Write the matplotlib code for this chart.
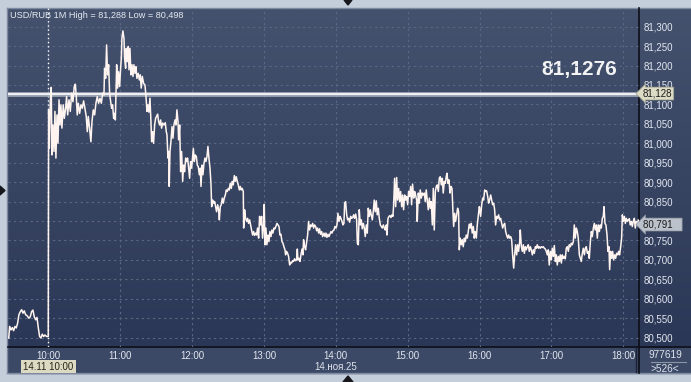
import numpy as np
import matplotlib.pyplot as plt
from matplotlib.patches import Rectangle, Polygon
from matplotlib.colors import LinearSegmentedColormap
from matplotlib.transforms import blended_transform_factory

plt.rcParams['font.family'] = ['Liberation Sans', 'DejaVu Sans']

# ---- data: USD/RUB, 14 Nov 2025, minutes relative to 10:00 ----
pre_minutes = [-33, -32.2, -31.1, -30, -28.9, -27.8, -26.7, -25.6, -24.5, -23.3, -22.2, -21.1,
               -20, -18.9, -17.8, -16.1, -15, -13.9, -12.8, -11.7, -10.5, -9.4, -8.3, -7.2,
               -6.1, -5, -3.9, -2.8, -1.4, 0]
pre_prices = [80.499, 80.529, 80.520, 80.526, 80.518, 80.529, 80.525, 80.537, 80.559, 80.567, 80.572, 80.563,
              80.569, 80.559, 80.557, 80.550, 80.554, 80.567, 80.571, 80.554, 80.546, 80.552, 80.525, 80.503,
              80.499, 80.509, 80.503, 80.507, 80.503, 80.503]

minutes = [
    0.3, 0.9, 1.7, 2.5, 3.1, 3.9, 4.8, 5.6, 6.4, 7.3, 8.1, 9.0, 9.8, 10.6, 11.4, 12.5, 13.4, 14.5, 15.3, 16.2,
    17.3, 18.4, 19.5, 20.6, 21.7, 22.6, 23.4, 24.2, 25.1, 26.2, 27.3, 28.4, 29.5, 30.6, 31.7, 32.6, 33.4, 34.5,
    35.6, 36.5, 37.6, 38.7, 39.8, 40.9, 42.0, 43.2, 44.3, 45.4, 46.5, 47.0, 47.9, 48.7, 49.5, 50.4, 51.2, 52.1,
    52.9, 53.7, 54.6, 55.4, 56.0, 56.5, 57.1, 57.9, 58.7, 59.6,
    60.4, 61.0, 61.5, 62.3, 63.2, 63.7, 64.6, 65.1, 66.0, 66.8, 67.4, 68.2, 69.0, 69.9, 70.7, 71.5, 72.4, 73.2,
    74.0, 75.1, 76.0, 76.8, 77.6, 78.5, 79.6, 80.7, 81.5, 82.4, 83.2, 84.0, 84.9, 85.7, 86.3, 87.1, 87.9, 88.8,
    89.6, 90.4, 91.3, 92.1, 93.0, 93.8, 94.6, 95.5, 96.6, 97.7, 98.5, 99.1, 99.9, 100.5, 101.0,
    101.6, 102.4, 103.3, 104.1, 104.9, 105.8, 106.6, 107.4, 108.3, 108.8, 109.7, 110.5, 111.3, 112.2, 113.0,
    113.8, 114.7, 115.5, 116.3, 117.2, 118.0, 118.8, 119.7,
    121.1, 121.9, 122.7, 123.6, 124.4, 125.2, 126.1, 126.9, 127.5, 128.3, 129.1, 130.0, 130.8, 131.6, 132.5,
    133.3, 134.1, 135.0, 135.8, 136.4, 137.2, 138.0, 138.9, 139.7, 140.5, 141.4, 142.2, 142.8, 143.6, 144.4,
    145.3, 146.1, 146.9, 147.8, 148.6, 149.4, 150.3, 151.1, 151.9, 152.8, 153.6, 154.4, 155.3, 156.1, 156.9,
    157.8, 158.6, 159.5, 160.3, 161.1, 161.9, 162.8, 163.1, 163.9, 164.7, 165.6, 166.4, 167.2, 168.1, 168.9,
    169.7, 170.6, 171.4, 172.2, 173.1, 173.9, 174.7, 175.6, 176.4, 177.3, 178.1, 178.9, 179.8,
    180.3, 180.9, 181.7, 182.5, 183.4, 184.2, 185.0, 185.9, 186.7, 187.5, 188.4, 189.2, 190.0, 190.9, 191.7,
    192.6, 193.4, 194.2, 195.1, 195.9, 196.7, 197.6, 198.1, 198.9, 199.8, 200.6, 201.5, 202.3, 203.1, 204.0,
    204.8, 205.6, 206.5, 207.3, 207.9, 208.4, 209.3, 210.1, 210.9, 211.8, 212.6, 213.1, 214.0, 214.8, 215.6,
    216.5, 217.3, 218.1, 219.0, 219.8, 220.7, 221.5, 222.3, 223.2, 224.0, 224.8, 225.7, 226.5, 227.3, 228.2,
    229.0, 230.1, 231.0, 231.8, 232.6, 233.5, 234.3, 235.1, 236.0, 236.8, 237.6, 238.5, 239.3,
    240.2, 241.0, 241.8, 242.7, 243.5, 244.3, 245.2, 246.0, 246.8, 247.4, 248.2, 249.1, 249.9, 250.7, 251.6,
    252.4, 253.2, 254.1, 254.9, 255.7, 256.6, 257.4, 258.0, 258.8, 259.6, 260.5, 261.3, 262.1, 263.0, 263.8,
    264.6, 265.5, 266.3, 267.1, 268.0, 268.8, 269.6, 270.5, 271.3, 272.1, 273.0, 273.8, 274.6, 275.5, 276.3,
    277.2, 278.0, 278.8, 279.7, 280.5, 281.3, 282.2, 282.7, 283.6, 284.4, 285.2, 286.1, 286.9, 287.7, 288.3,
    289.1, 290.0, 290.8, 291.6, 292.5, 293.3, 294.1, 295.0, 295.8, 296.6, 297.5, 298.3, 299.1,
    300.0, 300.8, 301.6, 302.5, 303.3, 304.1, 305.0, 305.8, 306.6, 307.5, 308.0, 308.9, 309.7, 310.5, 311.4,
    312.2, 313.0, 313.9, 314.7, 315.5, 316.4, 317.2, 318.1, 318.9, 319.7, 320.6, 321.4, 322.2, 323.1, 323.9,
    324.7, 325.6, 326.4, 327.2, 328.1, 328.9, 329.7, 330.6, 331.4, 332.2, 332.8, 333.6, 334.5, 335.3, 336.1,
    337.0, 337.8, 338.4, 339.2, 340.0, 340.9, 341.7, 342.5, 343.1, 343.9, 344.8, 345.6, 346.4, 347.3, 348.1,
    348.9, 349.8, 350.6, 351.4, 352.3, 353.1, 353.9, 354.8, 355.6, 356.4, 357.3, 358.1, 359.0, 359.8,
    360.1, 360.9, 361.8, 362.6, 363.4, 364.3, 365.1, 365.9, 366.8, 367.6, 368.4, 369.3, 370.1, 370.9, 371.8,
    372.6, 373.4, 374.3, 375.1, 375.9, 376.8, 377.6, 378.5, 379.3, 380.1, 381.0, 381.8, 382.6, 383.5, 384.3,
    385.1, 386.0, 386.8, 387.6, 388.5, 389.3, 390.1, 391.0, 391.8, 392.6, 393.5, 394.0, 394.9, 395.7, 396.5,
    397.4, 398.2, 399.0, 399.9, 400.7, 401.5, 402.4, 403.2, 404.1, 404.9, 405.7, 406.6, 407.4, 408.2, 409.1,
    409.9, 410.7, 411.6, 412.4, 413.2, 414.1, 414.9, 415.7, 416.6, 417.4, 418.2, 419.1, 419.9,
    420.7, 421.6, 422.4, 423.3, 424.1, 424.9, 425.8, 426.6, 427.4, 428.3, 429.1, 429.9, 430.8, 431.6, 432.4,
    433.3, 434.1, 434.9, 435.8, 436.6, 437.4, 438.3, 439.1, 439.9, 440.8, 441.6, 442.4, 443.3, 444.1, 444.9,
    445.8, 446.6, 447.5, 448.3, 449.1, 450.0, 450.8, 451.6, 452.5, 453.3, 454.1, 455.0, 455.8, 456.6, 457.5,
    458.3, 459.1, 460.0, 460.8, 461.6, 462.5, 463.3, 463.9, 464.7, 465.5, 466.4, 467.2, 468.0, 468.6, 469.4,
    470.3, 471.1, 471.9, 472.8, 473.6, 474.4, 475.3, 476.1, 476.9, 477.8, 478.6, 479.2, 480.0, 480.9, 481.7,
    482.5, 483.4, 484.2, 485.0, 485.8, 486.7, 487.5, 488.3, 489.2, 490.0, 490.8, 491.7, 492.5, 493.1,
]
prices = [
    81.086, 80.987, 81.107, 81.144, 80.970, 81.047, 80.979, 81.082, 80.962, 81.073, 81.000, 81.112, 81.047, 81.099, 81.039, 81.099, 81.064, 81.090, 81.120, 81.073,
    81.112, 81.082, 81.129, 81.107, 81.146, 81.152, 81.120, 81.073, 81.103, 81.077, 81.099, 81.090, 81.109, 81.090, 81.069, 81.030, 81.069, 81.039,
    81.004, 81.056, 81.086, 81.073, 81.103, 81.120, 81.103, 81.116, 81.103, 81.129, 81.124, 81.193, 81.167, 81.253, 81.176, 81.202, 81.129, 81.107,
    81.090, 81.099, 81.064, 81.077, 81.060, 81.124, 81.202, 81.142, 81.184, 81.146,
    81.193, 81.219, 81.270, 81.289, 81.270, 81.219, 81.193, 81.244, 81.210, 81.249, 81.189, 81.244, 81.176, 81.202, 81.172, 81.202, 81.180, 81.197,
    81.167, 81.180, 81.163, 81.176, 81.142, 81.172, 81.154, 81.150, 81.124, 81.082, 81.099, 81.080, 81.116, 81.056, 81.004, 81.030, 81.000, 81.047,
    81.064, 81.069, 81.075, 81.056, 81.047, 81.060, 81.039, 81.052, 81.047, 81.053, 81.030, 81.022, 80.962, 80.979, 80.889,
    80.979, 81.004, 81.043, 81.013, 81.047, 81.060, 81.047, 81.086, 81.056, 81.009, 81.047, 80.927, 80.979, 80.902, 80.944,
    80.927, 80.962, 80.953, 80.962, 80.936, 80.910, 80.953, 80.936,
    80.987, 80.953, 80.970, 80.966, 80.944, 80.940, 80.919, 80.936, 80.889, 80.944, 80.919, 80.949, 80.962, 80.953, 80.966,
    80.992, 80.962, 80.936, 80.897, 80.837, 80.854, 80.846, 80.850, 80.837, 80.824, 80.842, 80.829, 80.803, 80.837, 80.842,
    80.859, 80.846, 80.859, 80.867, 80.880, 80.876, 80.884, 80.880, 80.897, 80.884, 80.902, 80.893, 80.917, 80.902, 80.914,
    80.902, 80.893, 80.880, 80.889, 80.880, 80.884, 80.876, 80.782, 80.829, 80.807, 80.799, 80.807, 80.794, 80.803, 80.790,
    80.777, 80.764, 80.773, 80.763, 80.769, 80.764, 80.782, 80.756, 80.812, 80.790, 80.812, 80.756, 80.790,
    80.843, 80.739, 80.782, 80.739, 80.764, 80.747, 80.773, 80.760, 80.777, 80.769, 80.782, 80.780, 80.786, 80.794, 80.790,
    80.786, 80.764, 80.766, 80.747, 80.743, 80.734, 80.726, 80.713, 80.722, 80.717, 80.709, 80.687, 80.694, 80.692, 80.698,
    80.696, 80.703, 80.698, 80.700, 80.728, 80.700, 80.704, 80.696, 80.713, 80.728, 80.713, 80.752, 80.734, 80.726, 80.743,
    80.764, 80.799, 80.777, 80.790, 80.786, 80.794, 80.782, 80.790, 80.786, 80.775, 80.782, 80.769, 80.780, 80.766, 80.773,
    80.760, 80.769, 80.760, 80.769, 80.758, 80.766, 80.760, 80.766, 80.773, 80.769, 80.775, 80.777, 80.786,
    80.782, 80.790, 80.820, 80.799, 80.812, 80.807, 80.799, 80.790, 80.794, 80.846, 80.850, 80.816, 80.803, 80.807, 80.797,
    80.812, 80.807, 80.809, 80.816, 80.807, 80.818, 80.803, 80.743, 80.739, 80.829, 80.790, 80.803, 80.780, 80.794, 80.782,
    80.760, 80.790, 80.769, 80.833, 80.812, 80.829, 80.816, 80.803, 80.824, 80.854, 80.824, 80.852, 80.816, 80.833, 80.807,
    80.790, 80.786, 80.782, 80.790, 80.782, 80.777, 80.790, 80.764, 80.807, 80.812, 80.814, 80.809, 80.816, 80.812, 80.842,
    80.910, 80.837, 80.912, 80.854, 80.884, 80.850, 80.876, 80.837, 80.867, 80.829, 80.867, 80.854, 80.863,
    80.842, 80.876, 80.863, 80.889, 80.842, 80.895, 80.859, 80.876, 80.867, 80.854, 80.799, 80.872, 80.846, 80.880, 80.859,
    80.872, 80.867, 80.872, 80.850, 80.880, 80.854, 80.829, 80.859, 80.833, 80.850, 80.790, 80.884, 80.777, 80.876, 80.889,
    80.893, 80.876, 80.910, 80.914, 80.893, 80.910, 80.872, 80.902, 80.897, 80.914, 80.923, 80.897, 80.906, 80.872, 80.889,
    80.884, 80.824, 80.786, 80.820, 80.799, 80.816, 80.833, 80.824, 80.726, 80.756, 80.739, 80.752, 80.734, 80.756, 80.747,
    80.764, 80.756, 80.773, 80.792, 80.782, 80.794, 80.769, 80.786, 80.756, 80.773, 80.756, 80.790, 80.816, 80.837,
    80.833, 80.812, 80.842, 80.859, 80.854, 80.880, 80.876, 80.878, 80.863, 80.846, 80.854, 80.867, 80.854, 80.842, 80.846,
    80.829, 80.790, 80.812, 80.807, 80.816, 80.803, 80.807, 80.794, 80.782, 80.790, 80.794, 80.773, 80.764, 80.756, 80.764,
    80.756, 80.760, 80.752, 80.713, 80.679, 80.713, 80.739, 80.713, 80.739, 80.722, 80.747, 80.777, 80.734, 80.722, 80.739,
    80.717, 80.734, 80.726, 80.734, 80.739, 80.722, 80.734, 80.726, 80.713, 80.726, 80.717, 80.734, 80.730, 80.739, 80.730,
    80.734, 80.730, 80.734, 80.732, 80.734, 80.730, 80.728, 80.722, 80.713, 80.726, 80.687, 80.722, 80.700,
    80.730, 80.709, 80.737, 80.696, 80.713, 80.687, 80.709, 80.696, 80.713, 80.692, 80.713, 80.704, 80.709, 80.703, 80.730,
    80.734, 80.722, 80.739, 80.734, 80.743, 80.739, 80.747, 80.790, 80.756, 80.782, 80.773, 80.756, 80.713, 80.704, 80.696,
    80.717, 80.730, 80.713, 80.730, 80.734, 80.717, 80.722, 80.704, 80.747, 80.773, 80.760, 80.782, 80.794, 80.777, 80.790,
    80.756, 80.790, 80.773, 80.790, 80.782, 80.807, 80.812, 80.837, 80.794, 80.790, 80.764, 80.722, 80.734, 80.675, 80.722,
    80.704, 80.722, 80.700, 80.713, 80.704, 80.717, 80.713, 80.722, 80.713, 80.734, 80.756, 80.816, 80.799, 80.812, 80.794,
    80.807, 80.799, 80.803, 80.806, 80.790, 80.799, 80.786, 80.799, 80.807, 80.782, 80.799, 80.790, 80.803, 80.790,
]

hour_ticks = [0, 60, 120, 180, 240, 300, 360, 420, 480]
hour_labels = ['10:00', '11:00', '12:00', '13:00', '14:00', '15:00', '16:00', '17:00', '18:00']
price_ticks = [80.50, 80.55, 80.60, 80.65, 80.70, 80.75, 80.80, 80.85, 80.90,
               80.95, 81.00, 81.05, 81.10, 81.15, 81.20, 81.25, 81.30]
day_high, day_low = 81.288, 80.498
ref_price = 81.128       # horizontal level
big_quote = '81,1276'
last_price = 80.791


def comma(v, nd=3):
    return f'{v:.{nd}f}'.replace('.', ',')


W, H = 691, 382
fig = plt.figure(figsize=(W / 100, H / 100), dpi=100)

# frame / panels drawn in pixel coords
bg = fig.add_axes([0, 0, 1, 1])
bg.add_patch(Rectangle((0, 0), W, H, color='#c4cdda', zorder=0))
cmap = LinearSegmentedColormap.from_list('navy', ['#44526e', '#2b3756'])
bg.imshow(np.linspace(0, 1, 200).reshape(-1, 1), extent=(8, W, 347, 8), cmap=cmap,
          aspect='auto', zorder=1)
bg.add_patch(Rectangle((8, 347), W - 8, 26, color='#3c4966', zorder=1))
bg.plot([7.5, 7.5], [7.5, 373], color='#7d8aa0', lw=1, zorder=2)
bg.plot([7.5, W], [7.5, 7.5], color='#7d8aa0', lw=1, zorder=2)
bg.plot([7.5, W], [373, 373], color='#7d8aa0', lw=1, zorder=2)
bg.plot([639, 639], [8, 373], color='#0c0f18', lw=1.2, zorder=2)
bg.plot([8, W], [347, 347], color='#0c0f18', lw=1.2, zorder=2)
bg.plot([636.5, 636.5], [348, 372], color='#1c2334', lw=1, zorder=2)
bg.plot([651, 686], [362, 362], color='#8b95a8', lw=0.8, zorder=2)
for tri in ([(344, 0), (352, 0), (348, 5)], [(0, 186), (0, 195), (5, 190.5)], [(343, 382), (353, 382), (348, 376)]):
    bg.add_patch(Polygon(tri, closed=True, color='#15171c', zorder=3))
bg.text(10, 15, f'USD/RUB 1M High = {comma(day_high)} Low = {comma(day_low)}',
        fontsize=6.6, color='#e6eaf1', va='center', zorder=5)
bg.text(579, 69, big_quote, fontsize=15, weight='bold', color='#f3f3f3', ha='center', va='center', zorder=5)
bg.text(336, 366.5, '14.ноя.25', fontsize=7, color='#dde2ec', ha='center', va='center', zorder=5)
bg.text(48.5, 366.5, '14.11 10:00', fontsize=7, color='#2a2418', ha='center', va='center', zorder=5,
        bbox=dict(boxstyle='square,pad=0.2', fc='#dcdac2', ec='none'))
bg.text(665, 355, '977619', fontsize=7.3, color='#dde2ec', ha='center', va='center', zorder=5)
bg.text(665, 369, '>526<', fontsize=7.3, color='#dde2ec', ha='center', va='center', zorder=5)
bg.set_xlim(0, W)
bg.set_ylim(H, 0)
bg.axis('off')

# main price axes
ax = fig.add_axes([8 / W, (H - 347) / H, 631 / W, 339 / H])
ax.patch.set_alpha(0)
for s in ax.spines.values():
    s.set_visible(False)
ax.set_xlim(-33.6, 493.1)
ax.set_ylim(80.476, 81.348)

ax.set_yticks(price_ticks)
ax.set_yticklabels([comma(v) for v in price_ticks])
ax.yaxis.tick_right()
ax.set_xticks(hour_ticks)
ax.set_xticklabels(hour_labels)
ax.tick_params(length=0, labelsize=7, colors='#e2e6ef')
ax.tick_params(axis='y', pad=3)
ax.tick_params(axis='x', pad=3)
ax.grid(True, color='#5a6886', lw=0.8, ls=(0, (2, 3)))
ax.axhline(81.35, color='#5a6886', lw=0.8, ls=(0, (2, 3)))

ax.axvline(0, color='white', lw=1, ls=(0, (1, 2)), zorder=2)
ax.axhline(ref_price, color='#9ea6b6', lw=3.4, zorder=3)
ax.axhline(ref_price, color='#f7f7f7', lw=1.3, zorder=3)

ax.plot(pre_minutes + minutes, pre_prices + prices, color='#fff4ef', lw=1.1, zorder=4)

tr = blended_transform_factory(ax.transAxes, ax.transData)
ax.text(1.006, ref_price, comma(ref_price), transform=tr, fontsize=7, color='#1a1a1a', va='center',
        bbox=dict(boxstyle='larrow,pad=0.15', fc='#dcdcc6', ec='#9a9a88', lw=0.5), zorder=6)
ax.text(1.006, last_price, comma(last_price) + '   ', transform=tr, fontsize=7, color='#1a1a1a', va='center',
        bbox=dict(boxstyle='larrow,pad=0.15', fc='#bcc2cc', ec='#8a909a', lw=0.5), zorder=6)

fig.savefig('out.png', dpi=100)
